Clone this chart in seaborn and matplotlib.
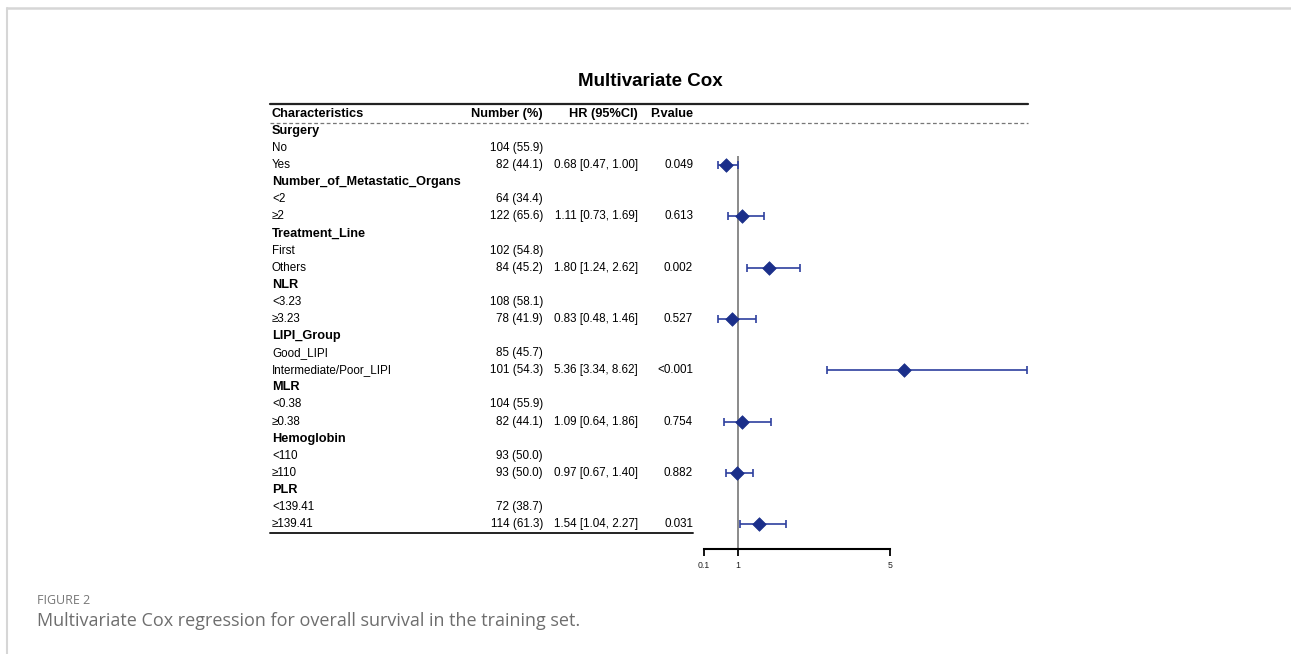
import matplotlib

matplotlib.use("Agg")

import matplotlib.pyplot as plt
import matplotlib.transforms as mtransforms
from matplotlib.lines import Line2D
import numpy as np
import pandas as pd
import seaborn as sns


variables = ["Surgery", "Number_of_Metastatic_Organs", "Treatment_Line", "NLR",
             "LIPI_Group", "MLR", "Hemoglobin", "PLR"]
ref_levels = ["No", "<2", "First", "<3.23", "Good_LIPI", "<0.38", "<110", "<139.41"]
cmp_levels = ["Yes", "≥2", "Others", "≥3.23", "Intermediate/Poor_LIPI", "≥0.38", "≥110", "≥139.41"]
ref_n = [104, 64, 102, 108, 85, 104, 93, 72]
ref_pct = [55.9, 34.4, 54.8, 58.1, 45.7, 55.9, 50.0, 38.7]
cmp_n = [82, 122, 84, 78, 101, 82, 93, 114]
cmp_pct = [44.1, 65.6, 45.2, 41.9, 54.3, 44.1, 50.0, 61.3]
hr = [0.68, 1.11, 1.80, 0.83, 5.36, 1.09, 0.97, 1.54]
hr_lo = [0.47, 0.73, 1.24, 0.48, 3.34, 0.64, 0.67, 1.04]
hr_hi = [1.00, 1.69, 2.62, 1.46, 8.62, 1.86, 1.40, 2.27]
p_text = ["0.049", "0.613", "0.002", "0.527", "<0.001", "0.754", "0.882", "0.031"]
x_ticks = [0.1, 1, 5]

# table rows: group header, reference level, compared level
rows = []
for k, var in enumerate(variables):
    rows.append(dict(label=var, bold=True, num="", hrtxt="", p=""))
    rows.append(dict(label=ref_levels[k], bold=False, num=f"{ref_n[k]} ({ref_pct[k]:.1f})", hrtxt="", p=""))
    rows.append(dict(label=cmp_levels[k], bold=False, num=f"{cmp_n[k]} ({cmp_pct[k]:.1f})",
                     hrtxt=f"{hr[k]:.2f} [{hr_lo[k]:.2f}, {hr_hi[k]:.2f}]", p=p_text[k]))
table = pd.DataFrame(rows)
table["row"] = np.arange(len(table))

est = pd.DataFrame({"hr": hr, "lo": hr_lo, "hi": hr_hi})
est["row"] = [3 * k + 2 for k in range(len(variables))]

sns.set_theme(style="white")
plt.rcParams["font.family"] = ["Liberation Sans", "DejaVu Sans"]
plt.rcParams["text.color"] = "black"

W, H = 1291, 654
fig = plt.figure(figsize=(W / 100, H / 100), dpi=100)

# forest panel placed in pixel space
row_h = 17.09
y0_px = 131
ax_top_px, ax_bot_px = 122, 549
ax_left_px, ax_right_px = 704, 1028
ax = fig.add_axes([ax_left_px / W, 1 - ax_bot_px / H,
                   (ax_right_px - ax_left_px) / W, (ax_bot_px - ax_top_px) / H])
ax.set_xlim(0.1, 8.635)
ax.set_ylim((ax_bot_px - y0_px) / row_h, (ax_top_px - y0_px) / row_h)
ax.patch.set_alpha(0)

ax.vlines(1, 1.45, ax.get_ylim()[0], color="#6b6b6b", lw=1.1, zorder=1)
ax.errorbar(est["hr"], est["row"], xerr=[est["hr"] - est["lo"], est["hi"] - est["hr"]],
            fmt="none", ecolor="#2d3f9e", elinewidth=1.2, capsize=3, capthick=1.2, zorder=2)
sns.scatterplot(data=est, x="hr", y="row", marker="D", s=48, color="#1b2f8a",
                edgecolor="#1b2f8a", linewidth=0.5, ax=ax, zorder=3, legend=False)

for s in ["top", "right", "left"]:
    ax.spines[s].set_visible(False)
ax.spines["bottom"].set_bounds(0.1, 5)
ax.spines["bottom"].set_linewidth(1.5)
ax.spines["bottom"].set_color("black")
ax.set_xticks(x_ticks)
ax.set_xticklabels(["0.1", "1", "5"], fontsize=6.3, color="#222222")
ax.tick_params(axis="x", direction="out", length=5, width=1.3, color="black", pad=4, bottom=True)
ax.set_yticks([])
ax.set_xlabel("")
ax.set_ylabel("")

# table text: x in figure pixels, y in data rows
tr = mtransforms.blended_transform_factory(fig.transFigure, ax.transData)
fx = lambda px: px / W
x_char, x_num, x_hr, x_p = 272, 543, 638, 693
fs = 8.4

header_y = (114 - y0_px) / row_h
for xp, txt, ha in [(x_char, "Characteristics", "left"), (x_num, "Number (%)", "right"),
                    (x_hr, "HR (95%CI)", "right"), (x_p, "P.value", "right")]:
    ax.text(fx(xp), header_y, txt, transform=tr, fontsize=9.2, fontweight="bold",
            va="center", ha=ha)

for _, r in table.iterrows():
    ax.text(fx(x_char), r["row"], r["label"], transform=tr, va="center", ha="left",
            fontsize=9.2 if r["bold"] else fs, fontweight="bold" if r["bold"] else "normal")
    ax.text(fx(x_num), r["row"], r["num"], transform=tr, va="center", ha="right", fontsize=fs)
    ax.text(fx(x_hr), r["row"], r["hrtxt"], transform=tr, va="center", ha="right", fontsize=fs)
    ax.text(fx(x_p), r["row"], r["p"], transform=tr, va="center", ha="right", fontsize=fs)

# table rules
def hline(px_y, x1, x2, **kw):
    yy = (px_y - y0_px) / row_h
    ax.add_line(Line2D([fx(x1), fx(x2)], [yy, yy], transform=tr, clip_on=False, **kw))

hline(104, 270, 1028, color="#222222", lw=1.6)
hline(122.5, 270, 1028, color="#777777", lw=0.9, ls=(0, (3, 2)))
hline(533, 270, 693, color="#222222", lw=1.4)

ax.text(fx(650), (82 - y0_px) / row_h, "Multivariate Cox", transform=tr, ha="center",
        va="center", fontsize=13.5, fontweight="bold")

# page frame and caption
fig.add_artist(Line2D([7 / W, 1], [1 - 7.5 / H, 1 - 7.5 / H], transform=fig.transFigure,
                      color="#d6d6d6", lw=1.8))
fig.add_artist(Line2D([7 / W, 7 / W], [0, 1 - 7.5 / H], transform=fig.transFigure,
                      color="#d6d6d6", lw=1.5))
fig.text(37 / W, 1 - 600 / H, "FIGURE 2", fontsize=9, color="#777777",
         family=["Open Sans", "DejaVu Sans"], va="center", ha="left")
fig.text(37 / W, 1 - 621 / H, "Multivariate Cox regression for overall survival in the training set.",
         fontsize=12.95, color="#6e6e6e", family=["Open Sans", "DejaVu Sans"], va="center", ha="left")

fig.savefig("out.png", dpi=100)
